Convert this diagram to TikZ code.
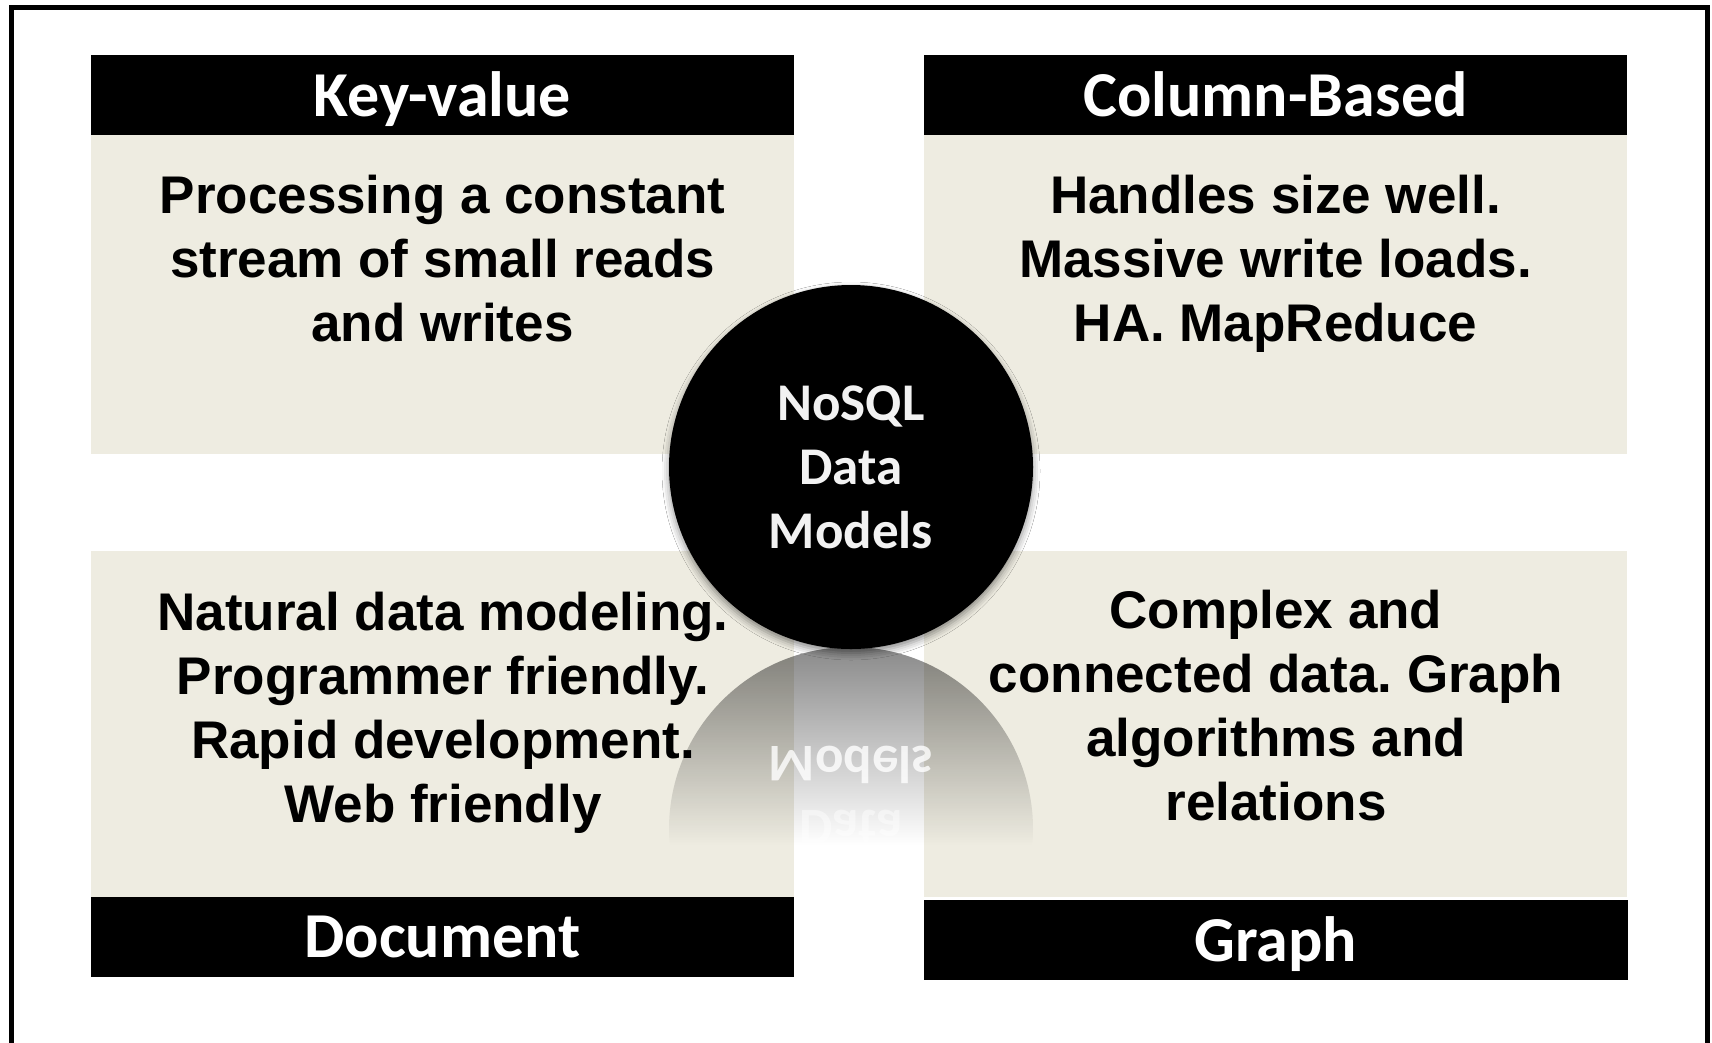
\documentclass[tikz,border=0pt]{standalone}
\usepackage{fontspec}
\newfontfamily\arialfam{Liberation Sans}
\newfontfamily\calfam{Carlito}
\usetikzlibrary{fadings,shadows.blur}
\definecolor{panelbeige}{HTML}{EEECE1}
\definecolor{hubtext}{HTML}{F2F2F2}
% reflection under the hub: darkest at the top, gone at the bottom
\tikzfading[name=reflfade, top color=transparent!54, bottom color=transparent!100]
% fixed first-line height so the baselines land where wanted
\newcommand\lnstrut{\rule{0pt}{45pt}}

\begin{document}
\frenchspacing
\begin{tikzpicture}[x=1pt, y=-1pt,
  panel/.style={rectangle, fill=panelbeige, inner sep=0pt, minimum width=703pt},
  headbar/.style={rectangle, fill=black, text=white, inner sep=0pt,
    minimum width=703pt, minimum height=80pt,
    font=\calfam\bfseries\fontsize{64}{76}\selectfont\frenchspacing},
  bodytext/.style={inner sep=0pt, anchor=north, align=center, text=black,
    font=\arialfam\bfseries\fontsize{53}{64}\selectfont\frenchspacing},
  hubfont/.style={font=\calfam\bfseries\fontsize{53}{64}\selectfont},
  hub/.style={circle, fill=black, inner sep=0pt, minimum size=364pt,
    align=center, text=hubtext, hubfont,
    blur shadow={shadow xshift=0pt, shadow yshift=-4pt,
      shadow blur radius=7pt, shadow opacity=45}},
  mirrortext/.style={inner sep=0pt, anchor=base, text=white, hubfont, transform shape}
]
\useasboundingbox (0,0) rectangle (1712,1042);
\clip (0,0) rectangle (1712,1042);
\fill[white] (0,0) rectangle (1712,1042);

% outer frame (its bottom edge lies below the page)
\draw[line width=5pt, line join=miter] (11,1060) -- (11,7) -- (1707,7) -- (1707,1060);

% beige panels
\node[panel, minimum height=319pt] (kvpanel)  at (442.5,294.5) {};
\node[panel, minimum height=319pt] (colpanel) at (1275.5,294.5) {};
\node[panel, minimum height=346pt] (docpanel) at (442.5,724) {};
\node[panel, minimum height=346pt] (grpanel)  at (1275.5,724) {};

% title bars
\node[headbar, text height=50pt, text depth=8pt] (kvhead)  at (442.5,95)  {Key-value};
\node[headbar, text height=50pt, text depth=8pt] (colhead) at (1275.5,95) {Column-Based};
\node[headbar, text height=49pt, text depth=9pt] (dochead) at (442.5,937) {Document};
\node[headbar, text height=50pt, text depth=8pt, minimum width=704pt] (grhead) at (1276,940) {Graph};

% mirror image of the hub
\begin{scope}
  \clip (851,829) circle (182pt);
  \fill[black, path fading=reflfade] (667,647) rectangle (1035,845);
\end{scope}
\begin{scope}[shift={(0,1294)}, yscale=-1]
  \node[mirrortext, text opacity=0.8]  (mirmodels) at (851,548) {Models};
  \node[mirrortext, text opacity=0.45] (mirdata)   at (851,484) {Data};
\end{scope}

% panel texts
\node[bodytext] (kvtext) at (442.5,168)
  {\lnstrut Processing a constant\\stream of small reads\\and writes};
\node[bodytext] (coltext) at (1275.5,168)
  {\lnstrut Handles size well.\\Massive write loads.\\HA. MapReduce};
\node[bodytext] (doctext) at (443,585)
  {\lnstrut Natural data modeling.\\Programmer friendly.\\Rapid development.\\Web friendly};
\node[bodytext] (grtext) at (1276,583)
  {\lnstrut Complex and\\connected data. Graph\\algorithms and\\relations};

% central hub
\node[hub] (hub) at (851,467) {NoSQL\\Data\\Models};
\end{tikzpicture}
\end{document}
